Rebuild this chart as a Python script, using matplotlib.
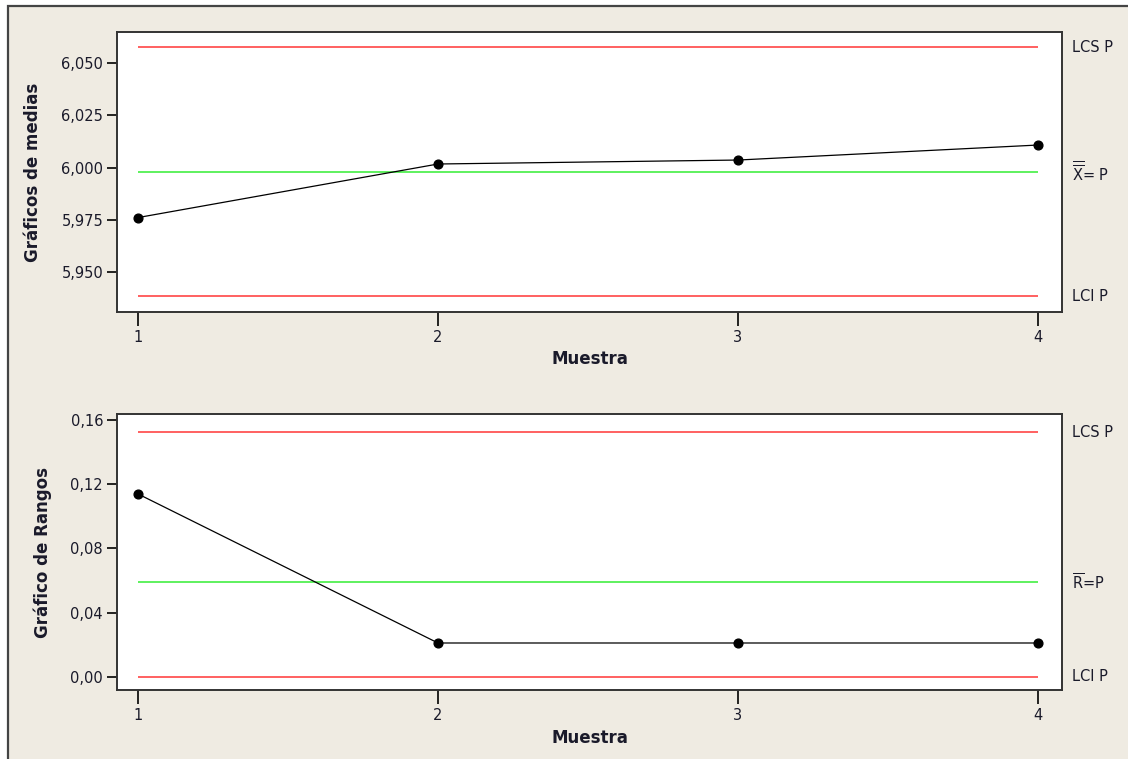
import matplotlib
matplotlib.use("Agg")
import matplotlib.pyplot as plt
from matplotlib.patches import Rectangle
from matplotlib.ticker import FuncFormatter

plt.rcParams["font.family"] = ["DejaVu Sans"]

BEIGE = "#efebe2"
RED = "#ff3535"
GREEN = "#33ee33"
TXT = "#1a1a2a"

# datos
muestra = [1, 2, 3, 4]
medias = [5.9760, 6.0017, 6.0036, 6.0108]
rangos = [0.1139, 0.0210, 0.0210, 0.0210]
x_lim_ctrl = [6.0577, 5.9978, 5.9382]   # LCS, central, LCI
r_lim_ctrl = [0.1523, 0.0588, 0.0000]
x_ticks = [5.950, 5.975, 6.000, 6.025, 6.050]
r_ticks = [0.00, 0.04, 0.08, 0.12, 0.16]
x_tags = ["LCS P", r"$\overline{\overline{\mathrm{X}}}$= P", "LCI P"]
r_tags = ["LCS P", r"$\overline{\mathrm{R}}$=P", "LCI P"]

fig = plt.figure(figsize=(11.28, 7.59), dpi=100, facecolor="white")
# marco beige de fondo
fig.add_artist(Rectangle((8 / 1128, -0.1), 1.2, (759 - 6) / 759 + 0.1,
                         transform=fig.transFigure, facecolor=BEIGE,
                         edgecolor="#444444", linewidth=1.6, zorder=0))

ax1 = fig.add_axes([0.1037, 0.5889, 0.8378, 0.3689])
ax2 = fig.add_axes([0.1037, 0.0909, 0.8378, 0.3636])


def panel(ax, vals, lims, ticks, fmt, ylim, tags, ylabel, ylab_x, xlab_y):
    ax.set_facecolor("white")
    ax.hlines(lims[0], muestra[0], muestra[-1], color=RED, lw=1.1)
    ax.hlines(lims[1], muestra[0], muestra[-1], color=GREEN, lw=1.1)
    ax.hlines(lims[2], muestra[0], muestra[-1], color=RED, lw=1.1)
    ax.plot(muestra, vals, color="black", lw=0.9, marker="o", ms=6.3, zorder=3)
    ax.set_xlim(0.93, 4.08)
    ax.set_ylim(*ylim)
    ax.set_xticks(muestra)
    ax.set_yticks(ticks)
    ax.yaxis.set_major_formatter(FuncFormatter(lambda v, p: fmt.format(v).replace(".", ",")))
    ax.tick_params(axis="x", direction="out", length=10, width=1.2,
                   labelsize=10.5, labelcolor=TXT, pad=3)
    ax.tick_params(axis="y", direction="out", length=7, width=1.2,
                   labelsize=10.5, labelcolor=TXT, pad=3)
    for s in ax.spines.values():
        s.set_color("#333333")
        s.set_linewidth(1.4)
    tr = ax.get_yaxis_transform()
    for val, tag in zip(lims, tags):
        ax.text(1.0106, val, tag, transform=tr, ha="left", va="center",
                fontsize=10.5, color=TXT)
    ax.set_xlabel("Muestra", fontsize=12, fontweight="bold", color=TXT)
    ax.xaxis.set_label_coords(0.5, xlab_y)
    ax.set_ylabel(ylabel, fontsize=12, fontweight="bold", color=TXT)
    ax.yaxis.set_label_coords(ylab_x, 0.5)


panel(ax1, medias, x_lim_ctrl, x_ticks, "{:.3f}", (5.9307, 6.065), x_tags,
      "Gráficos de medias", -0.079, -0.135)
panel(ax2, rangos, r_lim_ctrl, r_ticks, "{:.2f}", (-0.0083, 0.1637), r_tags,
      "Gráfico de Rangos", -0.069, -0.141)

fig.savefig("out.png", dpi=100, facecolor="white")
